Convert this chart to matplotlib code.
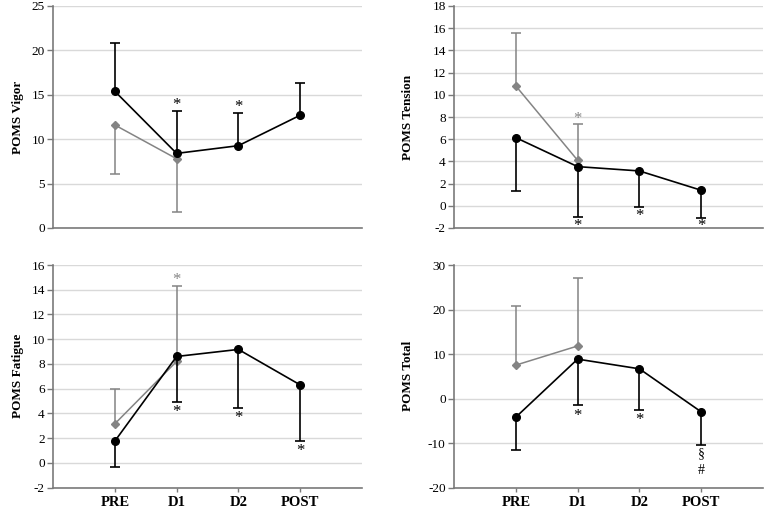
import matplotlib
matplotlib.use("Agg")
import matplotlib.pyplot as plt
import numpy as np

plt.rcParams['font.family'] = ['Liberation Serif', 'DejaVu Serif']
plt.rcParams['axes.unicode_minus'] = False

categories = ["PRE", "D1", "D2", "POST"]
gray_cats = ["PRE", "D1"]

# Panel data: means and one-sided SD (positive = up, negative = down)
vigor_black = [15.4, 8.4, 9.27, 12.7]
vigor_black_sd = [5.47, 4.8, 3.73, 3.6]
vigor_gray = [11.6, 7.8]
vigor_gray_sd = [-5.5, -5.95]

tension_black = [6.14, 3.53, 3.14, 1.4]
tension_black_sd = [-4.81, -4.57, -3.24, -2.53]
tension_gray = [10.8, 4.1]
tension_gray_sd = [4.8, 3.27]

fatigue_black = [1.75, 8.6, 9.17, 6.3]
fatigue_black_sd = [-2.08, -3.71, -4.77, -4.55]
fatigue_gray = [3.15, 8.2]
fatigue_gray_sd = [2.83, 6.1]

total_black = [-4.2, 8.85, 6.67, -3.0]
total_black_sd = [-7.3, -10.25, -9.22, -7.4]
total_gray = [7.5, 11.8]
total_gray_sd = [13.3, 15.3]

ylabels = ["POMS Vigor", "POMS Tension", "POMS Fatigue", "POMS Total"]
yticks = [list(range(0, 26, 5)), list(range(-2, 19, 2)),
          list(range(-2, 17, 2)), list(range(-20, 31, 10))]

# annotations: (category, y, text, color)
vigor_notes = [("D1", 14.1, "*", "black"), ("D2", 13.85, "*", "black")]
tension_notes = [("D1", 8.03, "*", "gray"), ("D1", -1.67, "*", "black"),
                 ("D2", -0.77, "*", "black"), ("POST", -1.67, "*", "black")]
fatigue_notes = [("D1", 14.95, "*", "gray"), ("D1", 4.3, "*", "black"),
                 ("D2", 3.8, "*", "black"), ("POST", 1.13, "*", "black")]
total_notes = [("D1", -3.4, "*", "black"), ("D2", -4.3, "*", "black"),
               ("POST", -12.4, "§", "black"), ("POST", -16.2, "#", "black")]

panels = [
    (vigor_black, vigor_black_sd, vigor_gray, vigor_gray_sd, vigor_notes),
    (tension_black, tension_black_sd, tension_gray, tension_gray_sd, tension_notes),
    (fatigue_black, fatigue_black_sd, fatigue_gray, fatigue_gray_sd, fatigue_notes),
    (total_black, total_black_sd, total_gray, total_gray_sd, total_notes),
]

W, H = 767, 511
fig = plt.figure(figsize=(W / 100, H / 100), dpi=100)
boxes = [(53, 6, 309, 222), (454, 6, 309, 222), (53, 265, 309, 222.5), (454, 265, 309, 222.5)]
label_x = [18, 408, 18, 408]

GRAY = "#848484"
SPINE = "#7a7a7a"
GRID = "#d9d9d9"

for i, (box, data) in enumerate(zip(boxes, panels)):
    x0, y0, w, h = box
    ax = fig.add_axes([x0 / W, 1 - (y0 + h) / H, w / W, h / H])
    bm, bsd, gm, gsd, notes = data
    xb = np.arange(1, len(categories) + 1)
    xg = np.arange(1, len(gray_cats) + 1)

    # gray series
    gm_a = np.array(gm); gsd_a = np.array(gsd)
    ax.vlines(xg, gm_a, gm_a + gsd_a, color=GRAY, lw=1.1, zorder=2)
    ax.plot(xg, gm_a + gsd_a, ls='none', marker='_', ms=7, mew=1.1, color=GRAY, zorder=2)
    ax.plot(xg, gm_a, color=GRAY, lw=1.1, marker='D', ms=4.3, zorder=3)

    # black series
    bm_a = np.array(bm); bsd_a = np.array(bsd)
    ax.vlines(xb, bm_a, bm_a + bsd_a, color='black', lw=1.2, zorder=4)
    ax.plot(xb, bm_a + bsd_a, ls='none', marker='_', ms=7, mew=1.2, color='black', zorder=4)
    ax.plot(xb, bm_a, color='black', lw=1.2, marker='o', ms=5.5, zorder=5)

    for cat, yv, txt, col in notes:
        c = GRAY if col == "gray" else "black"
        fs = 12 if txt == "*" else 10
        ax.text(categories.index(cat) + 1, yv, txt, ha='center',
                va='center' if txt != "*" else 'center_baseline',
                fontsize=fs, color=c, zorder=6)

    yt = yticks[i]
    ax.set_ylim(yt[0], yt[-1])
    ax.set_yticks(yt)
    ax.set_xlim(0, 5)
    ax.set_xticks(xb)
    if i >= 2:
        ax.set_xticklabels(categories, fontweight='bold', fontsize=10.5)
        ax.tick_params(axis='x', length=3, width=1, color=SPINE, pad=3)
    else:
        ax.set_xticklabels([])
        ax.tick_params(axis='x', length=0)
    ax.tick_params(axis='y', labelsize=9.5, length=4, width=1, color=SPINE, pad=2)
    ax.grid(axis='y', color=GRID, lw=1)
    ax.set_axisbelow(True)
    for s in ['top', 'right']:
        ax.spines[s].set_visible(False)
    for s in ['left', 'bottom']:
        ax.spines[s].set_color(SPINE)
        ax.spines[s].set_linewidth(1.2)
    fig.text(label_x[i] / W, 1 - (y0 + h / 2) / H, ylabels[i], rotation=90,
             ha='center', va='center', fontweight='bold', fontsize=9.5)

fig.savefig("out.png", dpi=100)
